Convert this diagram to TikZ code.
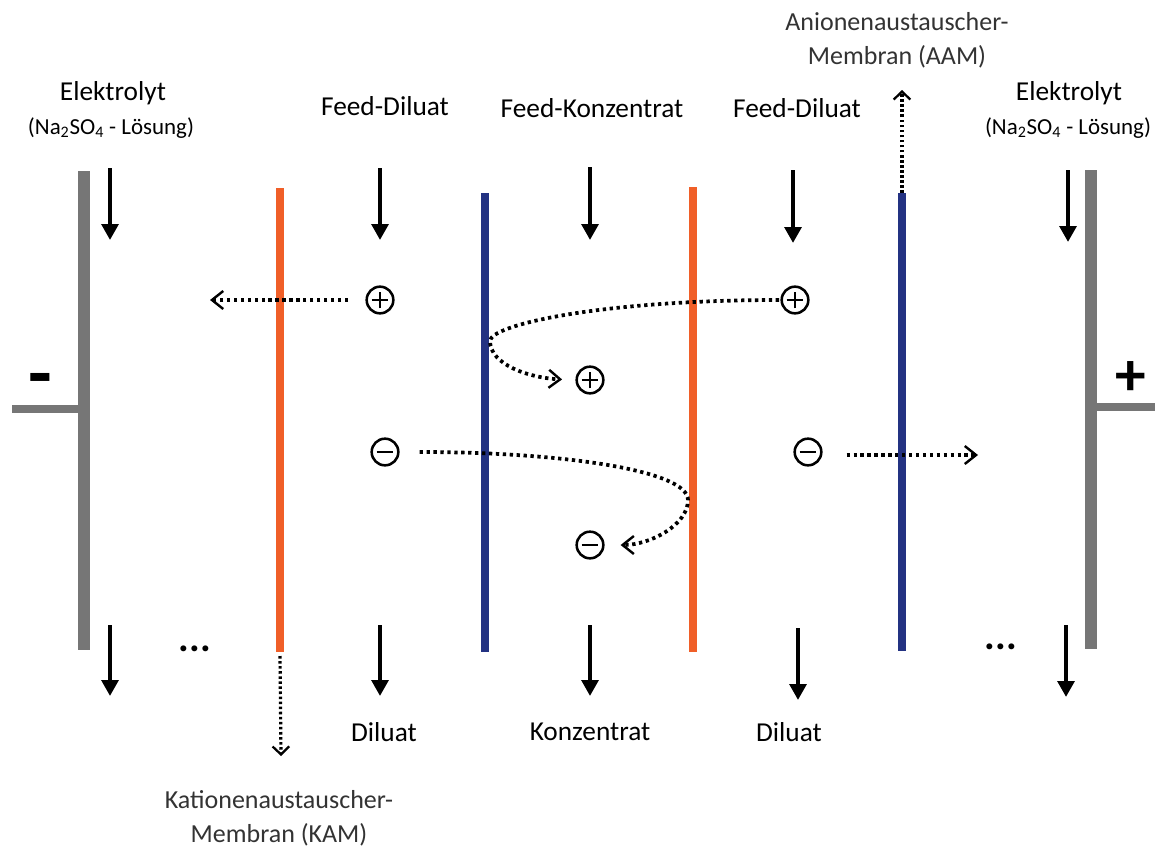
\documentclass[tikz,border=0pt]{standalone}
\usepackage{fontspec}
\setmainfont{Carlito}
\usetikzlibrary{arrows.meta,positioning}

\definecolor{kamorange}{RGB}{240,95,40}
\definecolor{aamblue}{RGB}{35,50,130}
\definecolor{electrodegray}{RGB}{118,118,118}

\tikzset{every picture/.style={line width=0.75pt}}
\tikzset{
  flow/.style={line width=3pt, -{Triangle[width=12.5pt,length=12pt]}},
  ionflow/.style={line width=2.8pt, dash pattern=on 2.5pt off 2.7pt,
    -{Straight Barb[length=8.5pt,width=13.5pt,line width=1.8pt]}},
  memflow/.style={line width=2.4pt, dash pattern=on 1.9pt off 1.9pt,
    -{Straight Barb[length=6pt,width=12.5pt,line width=1.7pt]}},
  membrane/.style={line width=6pt},
  electrode/.style={line width=9pt, electrodegray},
  lead/.style={line width=6pt, electrodegray},
  biglabel/.style={font=\fontsize{20.5}{24}\selectfont, inner sep=0pt},
  sublabel/.style={font=\fontsize{17.2}{20}\selectfont, inner sep=0pt},
  memlabel/.style={font=\fontsize{19.5}{25.5}\selectfont, inner sep=0pt, text=black!80, align=center},
  dotlabel/.style={font=\fontsize{30}{30}\selectfont\bfseries, inner sep=0pt},
  polarity/.style={font=\fontsize{46}{46}\selectfont\bfseries, inner sep=0pt},
  ion/.style={circle, draw, line width=1.9pt, minimum size=20pt, inner sep=0pt},
  cation/.style={ion, path picture={
    \draw[line width=1.9pt] (path picture bounding box.center) +(-6.2pt,0) -- +(6.2pt,0);
    \draw[line width=1.9pt] (path picture bounding box.center) +(0,-6.2pt) -- +(0,6.2pt);}},
  anion/.style={ion, path picture={
    \draw[line width=1.9pt] (path picture bounding box.center) +(-6.2pt,0) -- +(6.2pt,0);}},
}

\begin{document}
\begin{tikzpicture}[x=0.75pt,y=0.75pt,yscale=-1,xscale=1]
	\useasboundingbox (0,0) rectangle (1155,849);

	% Electrodes
	\coordinate (cathTop) at (84,171);
	\coordinate (cathBot) at (84,650);
	\coordinate (cathLead) at (12,409);
	\coordinate (anodTop) at (1091,170);
	\coordinate (anodBot) at (1091,649);
	\coordinate (anodLead) at (1155,407);
	\draw [electrode] (cathTop) -- (cathBot);
	\draw [lead] (cathLead) -- (cathLead -| cathTop);
	\draw [electrode] (anodTop) -- (anodBot);
	\draw [lead] (anodLead) -- (anodLead -| anodTop);
	\node [polarity, font=\fontsize{58}{58}\selectfont\bfseries] (minus) at (40,386) {-};
	\node [polarity] (plus) at (1131,379) {+};

	% Membranes
	\coordinate (kamATop) at (280,188);
	\coordinate (kamABot) at (280,652);
	\coordinate (aamATop) at (485,193);
	\coordinate (aamABot) at (485,652);
	\coordinate (kamBTop) at (693,187);
	\coordinate (kamBBot) at (693,652);
	\coordinate (aamBTop) at (902,193);
	\coordinate (aamBBot) at (902,651);
	\draw [membrane, kamorange] (kamATop) -- (kamABot);
	\draw [membrane, aamblue] (aamATop) -- (aamABot);
	\draw [membrane, kamorange] (kamBTop) -- (kamBBot);
	\draw [membrane, aamblue] (aamBTop) -- (aamBBot);

	% Text Node
	\node [biglabel] (elekL) at (113,93) {Elektrolyt};
	\node [sublabel] (solL) at (111,128) {(Na\textsubscript{2}SO\textsubscript{4} - Lösung)};
	\node [biglabel] (elekR) at (1069,93) {Elektrolyt};
	\node [sublabel] (solR) at (1068,128) {(Na\textsubscript{2}SO\textsubscript{4} - Lösung)};
	\node [biglabel] (feedDA) at (385,106) {Feed-Diluat};
	\node [biglabel] (feedK) at (592,108) {Feed-Konzentrat};
	\node [biglabel] (feedDB) at (797,108) {Feed-Diluat};
	\node [biglabel] (outDA) at (384,732) {Diluat};
	\node [biglabel] (outK) at (590,732) {Konzentrat};
	\node [biglabel] (outDB) at (789,732) {Diluat};
	\node [memlabel] (aamLabel) at (897,40) {Anionenaustauscher-\\Membran (AAM)};
	\node [memlabel] (kamLabel) at (279,818) {Kationenaustauscher-\\Membran (KAM)};
	\node [dotlabel] (dotsL) at (195,649) {...};
	\node [dotlabel] (dotsR) at (1001,647) {...};

	% Flow arrows
	\foreach \xa/\ya/\yb in {110/168/240, 380/168/240, 590/167/240, 793/170/243, 1068/170/242,
	                         110/625/696, 380/625/696, 590/625/696, 798/628/700, 1066/625/697}
	  \draw [flow] (\xa,\ya) -- (\xa,\yb);

	% Ions
	\node [cation] (katA) at (380,300) {};
	\node [cation] (katB) at (795,300) {};
	\node [cation] (katC) at (590,380) {};
	\node [anion] (anA) at (385,452) {};
	\node [anion] (anB) at (808,452) {};
	\node [anion] (anC) at (590,545) {};

	% Ion migration
	\coordinate (katEnd) at (210,300);
	\coordinate (anEnd) at (978,455);
	\coordinate (aamEnd) at (902,90);
	\coordinate (kamEnd) at (281,756);
	\draw [ionflow, shorten <=13] (katA.west) -- (katEnd);
	\draw [ionflow, shorten <=18] (anB.east |- anEnd) -- (anEnd);
	\draw [ionflow, shorten <=1, shorten >=10] (katB.west) .. controls (600,300) and (490,325) .. (490,341)
	  .. controls (490,365) and (530,378) .. (katC.west);
	\draw [ionflow, shorten <=15, shorten >=12] (anA.east) .. controls (560,452) and (688,470) .. (688,500)
	  .. controls (688,525) and (650,545) .. (anC.east);
	\draw [memflow] (aamBTop) -- (aamEnd);
	\draw [memflow] ([yshift=3]kamABot) -- (kamEnd);

\end{tikzpicture}
\end{document}
